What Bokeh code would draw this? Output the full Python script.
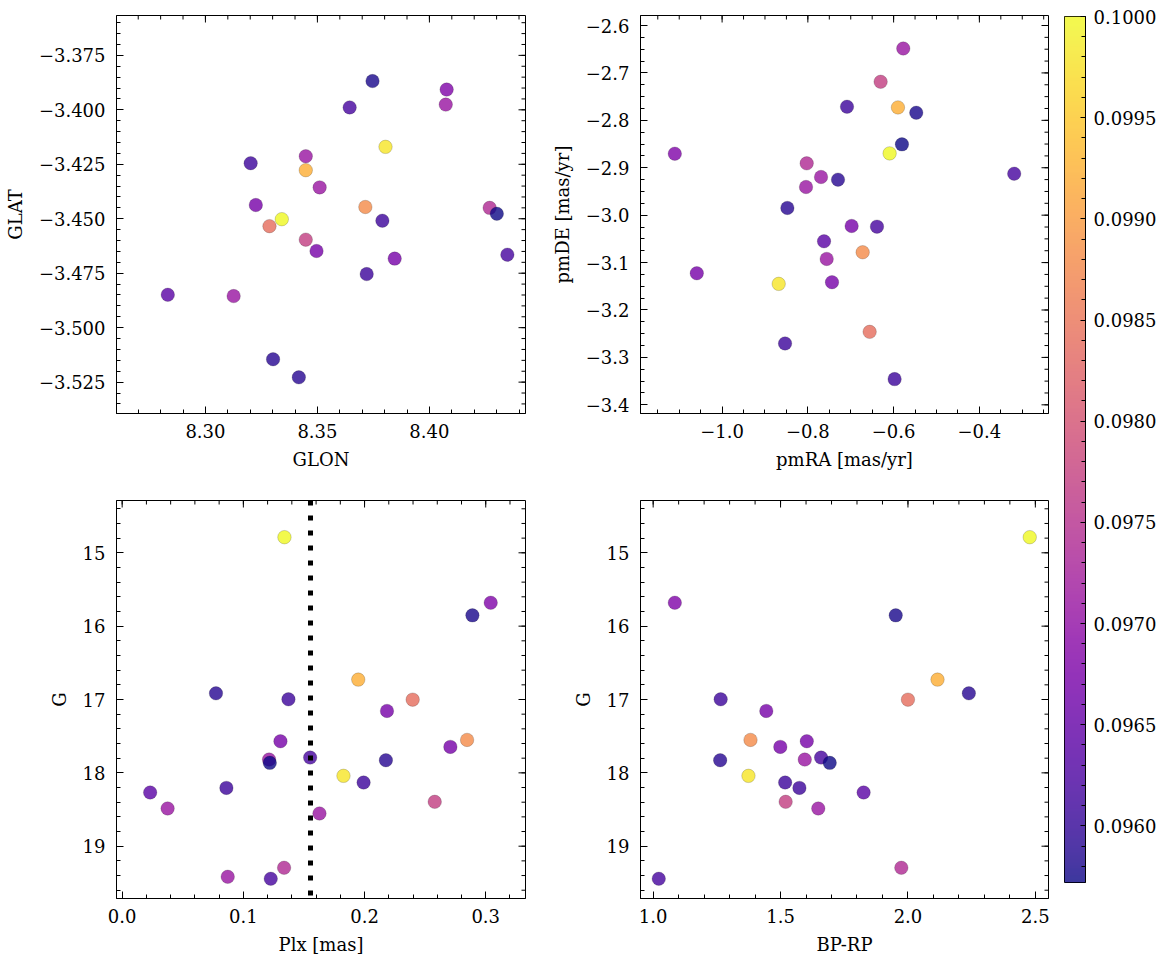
import numpy as np
from bokeh.plotting import figure
from bokeh.models import (Range1d, FixedTicker, Span, LinearColorMapper,
                          ColumnDataSource, CustomJSTickFormatter)
from bokeh.layouts import row, column
from bokeh.palettes import Plasma256
from bokeh.transform import linear_cmap
from bokeh.embed import file_html
from bokeh.resources import INLINE

# ---------------- data (one entry per star) ----------------
glon = [8.3341, 8.3804, 8.3448, 8.3714, 8.3286, 8.3448, 8.4269, 8.3448, 8.3126, 8.4073,
        8.3510, 8.4077, 8.3225, 8.3496, 8.3845, 8.2832, 8.3202, 8.3644, 8.3790, 8.3720,
        8.4348, 8.3746, 8.3302, 8.4301, 8.3417]
glat = [-3.4502, -3.4170, -3.4277, -3.4446, -3.4534, -3.4596, -3.4450, -3.4213, -3.4855, -3.3976,
        -3.4356, -3.3907, -3.4437, -3.4648, -3.4683, -3.4849, -3.4245, -3.3989, -3.4509, -3.4754,
        -3.4665, -3.3868, -3.5145, -3.4477, -3.5228]
pmra = [-0.6093, -0.8680, -0.5899, -0.6722, -0.6559, -0.6303, -0.8027, -0.8043, -0.7561, -0.5775,
        -0.7693, -1.1103, -1.0590, -0.7437, -0.6979, -0.7623, -0.7087, -0.6388, -0.8532, -0.5977,
        -0.3188, -0.5472, -0.8478, -0.5806, -0.7297]
pmde = [-2.8697, -3.1449, -2.7728, -3.0782, -3.2461, -2.7187, -2.8907, -2.9406, -3.0923, -2.6485,
        -2.9195, -2.8704, -3.1225, -3.1414, -3.0228, -3.0551, -2.7713, -3.0242, -3.2706, -3.3458,
        -2.9125, -2.7840, -2.9848, -2.8507, -2.9251]
plx = [0.1339, 0.1826, 0.1948, 0.2846, 0.2397, 0.2579, 0.1336, 0.1212, 0.0375, 0.1628,
       0.0871, 0.3041, 0.2185, 0.1306, 0.2708, 0.0231, 0.1372, 0.1551, 0.1992, 0.0860,
       0.1226, 0.2890, 0.0774, 0.1218, 0.2176]
gmag = [14.787, 18.041, 16.729, 17.551, 17.002, 18.395, 19.294, 17.819, 18.486, 18.554,
        19.417, 15.681, 17.156, 17.569, 17.646, 18.268, 16.997, 17.792, 18.132, 18.205,
        19.444, 15.853, 16.916, 17.864, 17.828]
bprp = [2.478, 1.374, 2.116, 1.382, 2.000, 1.520, 1.974, 1.595, 1.648, float("nan"),
        float("nan"), 1.085, 1.444, 1.603, 1.499, 1.826, 1.265, 1.659, 1.518, 1.574,
        1.022, 1.952, 2.239, 1.693, 1.263]
cval = [0.1000, 0.0998, 0.0992, 0.0988, 0.0984, 0.0977, 0.0974, 0.0971, 0.0971, 0.0971,
        0.0971, 0.0968, 0.0967, 0.0967, 0.0967, 0.0964, 0.0961, 0.0962, 0.0961, 0.0961,
        0.0962, 0.0958, 0.0959, 0.09572, 0.0959]

plx_cut = 0.1554
c_low, c_high = 0.09572, 0.1000

# tick values and labels
glon_ticks = [8.30, 8.35, 8.40]
glon_labels = ["8.30", "8.35", "8.40"]
glat_ticks = [-3.525, -3.500, -3.475, -3.450, -3.425, -3.400, -3.375]
glat_labels = ["\u22123.525", "\u22123.500", "\u22123.475", "\u22123.450", "\u22123.425", "\u22123.400", "\u22123.375"]
pmra_ticks = [-1.0, -0.8, -0.6, -0.4]
pmra_labels = ["\u22121.0", "\u22120.8", "\u22120.6", "\u22120.4"]
pmde_ticks = [-3.4, -3.3, -3.2, -3.1, -3.0, -2.9, -2.8, -2.7, -2.6]
pmde_labels = ["\u22123.4", "\u22123.3", "\u22123.2", "\u22123.1", "\u22123.0", "\u22122.9", "\u22122.8", "\u22122.7", "\u22122.6"]
plx_ticks = [0.0, 0.1, 0.2, 0.3]
plx_labels = ["0.0", "0.1", "0.2", "0.3"]
g_ticks = [15, 16, 17, 18, 19]
g_labels = ["15", "16", "17", "18", "19"]
bprp_ticks = [1.0, 1.5, 2.0, 2.5]
bprp_labels = ["1.0", "1.5", "2.0", "2.5"]
cb_ticks = [0.0960, 0.0965, 0.0970, 0.0975, 0.0980, 0.0985, 0.0990, 0.0995, 0.1000]
cb_labels = ["0.0960", "0.0965", "0.0970", "0.0975", "0.0980", "0.0985", "0.0990", "0.0995", "0.1000"]

# ---------------- styling ----------------
FONT = "DejaVu Serif"
FS = "18px"
MAJ, MIN = 7, 4

src = ColumnDataSource(dict(glon=np.array(glon), glat=np.array(glat), pmra=np.array(pmra),
                            pmde=np.array(pmde), plx=np.array(plx), g=np.array(gmag),
                            bprp=np.array(bprp), c=np.array(cval)))
cmap = linear_cmap("c", Plasma256, c_low, c_high)


def minors(lo, hi, step):
    n0 = int(np.ceil(lo / step - 1e-9))
    n1 = int(np.floor(hi / step + 1e-9))
    return [round(k * step, 7) for k in range(n0, n1 + 1)]


def fmt(ticks, labels):
    return CustomJSTickFormatter(args=dict(t=ticks, l=labels), code="""
        let best = 0, d = 1e99;
        for (let i = 0; i < t.length; i++) {
            const dd = Math.abs(t[i] - tick);
            if (dd < d) { d = dd; best = i; }
        }
        return l[best];
    """)


def style_axis(ax, ticks, labels, minor_list, tick_in=MAJ, minor_in=MIN):
    ax.ticker = FixedTicker(ticks=ticks, minor_ticks=minor_list)
    ax.formatter = fmt(ticks, labels)
    ax.major_tick_in = tick_in
    ax.major_tick_out = 0
    ax.minor_tick_in = minor_in
    ax.minor_tick_out = 0
    ax.major_tick_line_color = "black"
    ax.minor_tick_line_color = "black"
    ax.major_tick_line_width = 1
    ax.minor_tick_line_width = 1
    ax.axis_line_color = "black"
    ax.axis_line_width = 1
    ax.major_label_text_font = FONT
    ax.major_label_text_font_size = FS
    ax.major_label_text_color = "black"
    ax.axis_label_text_font = FONT
    ax.axis_label_text_font_size = FS
    ax.axis_label_text_font_style = "normal"
    ax.axis_label_text_color = "black"


def panel(xcol, ycol, xr, yr, xt, xl, xstep, yt, yl, ystep, xlabel, ylabel,
          bl, bt, br, bb, fw, fh):
    p = figure(x_range=Range1d(*xr), y_range=Range1d(*yr), frame_width=fw, frame_height=fh,
               min_border_left=bl, min_border_top=bt, min_border_right=br, min_border_bottom=bb,
               toolbar_location=None, output_backend="svg", background_fill_color="white",
               border_fill_color="white")
    p.xgrid.visible = False
    p.ygrid.visible = False
    p.outline_line_color = "black"
    p.outline_line_width = 1
    p.xaxis.axis_label = xlabel
    p.yaxis.axis_label = ylabel
    xmin = minors(min(xr), max(xr), xstep)
    ymin = minors(min(yr), max(yr), ystep)
    style_axis(p.xaxis[0], xt, xl, xmin)
    style_axis(p.yaxis[0], yt, yl, ymin)
    p.xaxis.major_label_standoff = 10
    p.xaxis.axis_label_standoff = 8
    p.yaxis.major_label_standoff = 11
    p.yaxis.axis_label_standoff = 10
    # mirrored inward ticks on the top and right frame edges (clipped to the frame)
    top, right = yr[1], xr[1]
    tick_style = dict(marker="dash", line_color="black", line_width=1, fill_color=None)
    p.scatter(x=xmin, y=[top] * len(xmin), angle=np.pi / 2, size=2 * MIN, **tick_style)
    p.scatter(x=xt, y=[top] * len(xt), angle=np.pi / 2, size=2 * MAJ, **tick_style)
    p.scatter(x=[right] * len(ymin), y=ymin, size=2 * MIN, **tick_style)
    p.scatter(x=[right] * len(yt), y=yt, size=2 * MAJ, **tick_style)
    p.scatter(xcol, ycol, source=src, size=13.5, fill_color=cmap, fill_alpha=0.8,
              line_color="black", line_alpha=0.35, line_width=0.5)
    return p


p1 = panel("glon", "glat", (8.2603, 8.4429), (-3.5394, -3.3567),
           glon_ticks, glon_labels, 0.01, glat_ticks, glat_labels, 0.005,
           "GLON", "GLAT", 116, 15, 8, 80, 409, 398)
p2 = panel("pmra", "pmde", (-1.1903, -0.2388), (-3.4183, -2.5789),
           pmra_ticks, pmra_labels, 0.05, pmde_ticks, pmde_labels, 0.025,
           "pmRA [mas/yr]", "pmDE [mas/yr]", 107, 15, 8, 80, 408, 398)
p3 = panel("plx", "g", (-0.00468, 0.3328), (19.713, 14.287),
           plx_ticks, plx_labels, 0.02, g_ticks, g_labels, 0.2,
           "Plx [mas]", "G", 116, 7, 8, 60, 409, 398)
p4 = panel("bprp", "g", (0.9503, 2.5516), (19.713, 14.287),
           bprp_ticks, bprp_labels, 0.1, g_ticks, g_labels, 0.2,
           "BP-RP", "G", 107, 7, 8, 60, 408, 398)

p3.add_layout(Span(location=plx_cut, dimension="height", line_color="black",
                   line_width=5, line_dash="5 10"))

# ---------------- colorbar ----------------
cb = figure(x_range=Range1d(0, 1), y_range=Range1d(c_low, c_high), frame_width=21, frame_height=866,
            min_border_left=8, min_border_top=16, min_border_right=72, min_border_bottom=10,
            toolbar_location=None, output_backend="svg", y_axis_location="right")
cb.xaxis.visible = False
cb.xgrid.visible = False
cb.ygrid.visible = False
cb.outline_line_color = "black"
cb.outline_line_width = 1
mapper = LinearColorMapper(palette=Plasma256, low=c_low, high=c_high)
grad = np.linspace(c_low, c_high, 512).reshape(512, 1)
cb.image(image=[grad], x=0, y=c_low, dw=1, dh=c_high - c_low, color_mapper=mapper, global_alpha=0.8)
style_axis(cb.yaxis[0], cb_ticks, cb_labels, minors(c_low, c_high, 0.0001), tick_in=5, minor_in=4)
cb.yaxis.major_label_standoff = 8

layout = row(column(row(p1, p2), row(p3, p4)), cb)

with open("out.html", "w") as f:
    f.write(file_html(layout, INLINE))
